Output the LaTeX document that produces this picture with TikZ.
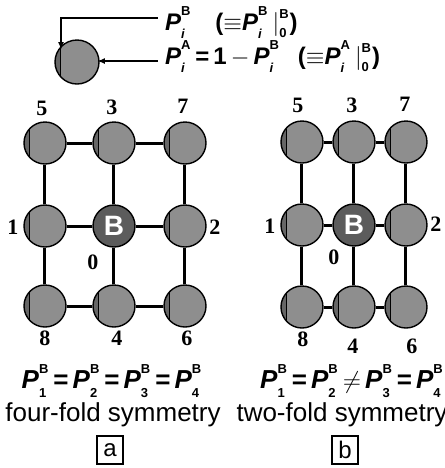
\documentclass[tikz,border=0pt]{standalone}
\usepackage{amsmath}
\usepackage{fontspec}
\setmainfont{Liberation Sans}
\newfontfamily\numfont{Liberation Serif}
\usetikzlibrary{arrows.meta}
\definecolor{sitegray}{HTML}{8E8E8E}
\definecolor{coregray}{HTML}{5C5C5C}
\newcommand{\sm}[1]{\text{\fontsize{6.5}{7}\selectfont\bfseries #1}}
\newcommand{\Pv}[2]{\textbf{\textit{P}}^{\raisebox{2pt}{\sm{#1}}}_{\raisebox{-1.5pt}{\sm{#2}}}}
\newcommand{\Bzero}{\,{\rvert}^{\sm{B}}_{\sm{0}}}
\newcommand{\eqs}{\mskip3mu\text{\bfseries =}\mskip3mu}

\tikzset{
  sitebase/.style={circle,draw=black,line width=0.7pt,minimum size=21pt,inner sep=0pt},
  site/.style={sitebase,fill=sitegray,
    path picture={
      \fill[black!60] ([xshift=-1pt]path picture bounding box.south west) rectangle ([xshift=3pt]path picture bounding box.north west);
      \draw[line width=0.5pt] ([xshift=3pt]path picture bounding box.south west) -- ([xshift=3pt]path picture bounding box.north west);}},
  core/.style={sitebase,fill=coregray,text=white,font=\bfseries\fontsize{14}{16}\selectfont},
  bond/.style={line width=1.5pt},
  num/.style={font=\numfont\bfseries\fontsize{11}{13}\selectfont},
  ptr/.style={line width=0.8pt,-{Latex[length=4pt,width=3pt]}},
  legend/.style={anchor=base west,font=\bfseries\fontsize{12}{14}\selectfont},
  caption/.style={font=\fontsize{13}{15}\selectfont},
  formula/.style={font=\bfseries\fontsize{13}{15}\selectfont},
  tag/.style={draw,line width=0.6pt,minimum width=13pt,minimum height=14pt,inner sep=0pt,font=\fontsize{12}{14}\selectfont}
}

\begin{document}
\begin{tikzpicture}[x=0.5pt,y=-0.5pt]
  \useasboundingbox (0,0) rectangle (445,468);

  % legend
  \node[site,minimum size=22pt] (sph) at (77,62) {};
  \node[legend] (tB) at (158,30)
    {$\Pv{B}{\textit{i}}$\hspace{12pt}(${\equiv}\Pv{B}{\textit{i}}\Bzero$)};
  \node[legend] (tA) at (158,64)
    {$\Pv{A}{\textit{i}}\eqs\text{1}\mskip3mu{-}\mskip3mu\Pv{B}{\textit{i}}$\hspace{9pt}(${\equiv}\Pv{A}{\textit{i}}\Bzero$)};
  \coordinate (tipB) at (61,50);
  \coordinate (tipA) at (97,61);
  \draw[ptr] ([yshift=6pt]tB.base west) -| (tipB);
  \draw[ptr] ([yshift=1.5pt]tA.base west) -- (tipA);

  % lattice a
  \foreach \n/\x/\y in {5/45/143,3/114/143,7/185/143,1/45/226,2/185/226,8/45/306,4/114/306,6/185/306}
    \node[site] (a\n) at (\x,\y) {};
  \node[core] (a0) at (114,226) {B};
  \foreach \p/\q in {5/3,3/7,1/0,0/2,8/4,4/6,5/1,1/8,3/0,0/4,7/2,2/6}
    \draw[bond] (a\p) -- (a\q);
  \foreach \n/\x/\y in {5/42/108,3/112/107,7/183/106,1/13/227,2/215/227,0/93/262,8/45/338,4/117/338,6/187/338}
    \node[num] (la\n) at (\x,\y) {\n};

  % lattice b
  \foreach \n/\x/\y in {5/302/142,3/354/142,7/406/142,1/302/225,2/406/225,8/302/307,4/354/307,6/406/307}
    \node[site] (b\n) at (\x,\y) {};
  \node[core] (b0) at (354,225) {B};
  \foreach \p/\q in {5/3,3/7,1/0,0/2,8/4,4/6,5/1,1/8,3/0,0/4,7/2,2/6}
    \draw[bond] (b\p) -- (b\q);
  \foreach \n/\x/\y in {5/298/105,3/352/105,7/405/104,1/270/226,2/436/224,0/334/257,8/303/339,4/353/346,6/412/346}
    \node[num] (lb\n) at (\x,\y) {\n};

  % captions
  \node[formula] (fa) at (112,381) {$\Pv{B}{1}\eqs\Pv{B}{2}\eqs\Pv{B}{3}\eqs\Pv{B}{4}$};
  \node[caption] (ca) at (113,415) {four-fold symmetry};
  \node[tag] (ta) at (110,450) {a};
  \node[formula] (fb) at (352,381) {$\Pv{B}{1}\eqs\Pv{B}{2}\mskip3mu{\neq}\mskip3mu\Pv{B}{3}\eqs\Pv{B}{4}$};
  \node[caption] (cb) at (342,415) {two-fold symmetry};
  \node[tag] (tb) at (345,450) {b};
\end{tikzpicture}
\end{document}
